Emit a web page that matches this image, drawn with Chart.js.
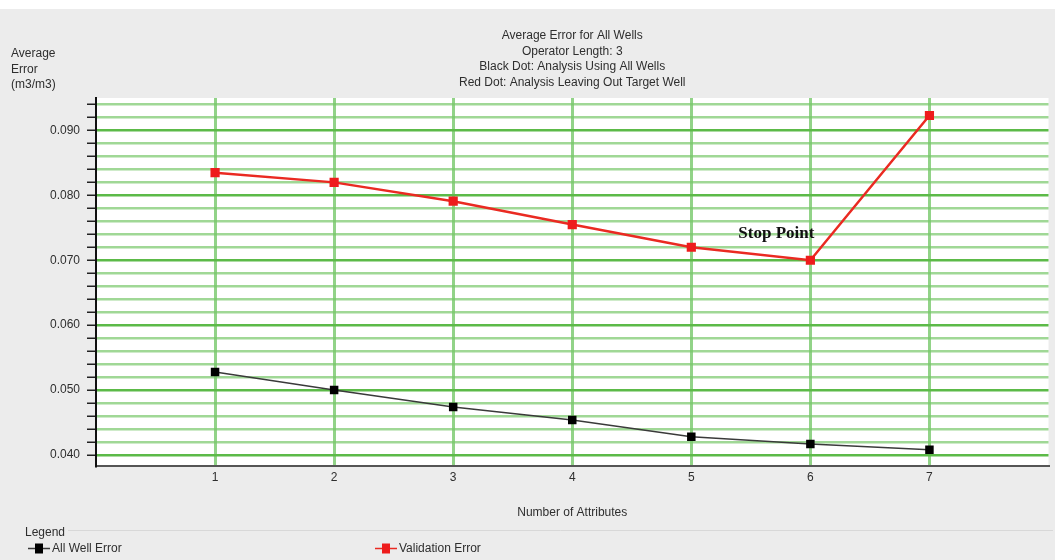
<!DOCTYPE html>
<html>
<head>
<meta charset="utf-8">
<script src="https://cdn.jsdelivr.net/npm/chart.js@4.4.1/dist/chart.umd.min.js"></script>
<style>
  html, body { margin: 0; padding: 0; background: #fff; }
  #wrap { width: 1055px; height: 560px; }
</style>
</head>
<body>
<div id="wrap"><canvas id="chart" width="1055" height="560"></canvas></div>
<script>
// values
const attributes = [1, 2, 3, 4, 5, 6, 7];
const allWellError = [0.0528, 0.0500, 0.0474, 0.0454, 0.0428, 0.0417, 0.0408];
const validationError = [0.0835, 0.0820, 0.0791, 0.0755, 0.0720, 0.0700, 0.0923];
const titleLines = ['Average Error for All Wells', 'Operator Length: 3',
    'Black Dot: Analysis Using All Wells', 'Red Dot: Analysis Leaving Out Target Well'];
const yTitleLines = ['Average', 'Error', '(m3/m3)'];
const xTitle = 'Number of Attributes';
const stopLabel = 'Stop Point';

const FONT = 'Arial, "Liberation Sans", sans-serif';

function isMajor(v) {
    return Math.round(v * 1000) % 10 === 0;
}

const decorPlugin = {
    id: 'decor',
    beforeDraw(chart) {
        let ctx = chart.ctx;
        let a = chart.chartArea;
        ctx.save();
        ctx.fillStyle = '#ececec';
        ctx.fillRect(0, 9, chart.width, chart.height - 9);
        ctx.fillStyle = '#ffffff';
        ctx.fillRect(a.left, a.top, a.right - a.left, a.bottom - a.top);
        ctx.restore();
    },
    afterDraw(chart) {
        let ctx = chart.ctx;
        let a = chart.chartArea;
        ctx.save();
        ctx.fillStyle = '#2e2e2e';
        ctx.font = '12px ' + FONT;
        ctx.textBaseline = 'middle';
        // title
        ctx.textAlign = 'center';
        let cx = (a.left + a.right) / 2;
        titleLines.forEach((t, i) => ctx.fillText(t, cx, 36 + i * 15.5));
        // y axis title
        ctx.textAlign = 'left';
        yTitleLines.forEach((t, i) => ctx.fillText(t, 11, 54 + i * 15.5));

        // stop point annotation
        let pt = chart.getDatasetMeta(1).data[5];
        ctx.font = 'bold 17px "Liberation Serif", "Times New Roman", serif';
        ctx.fillStyle = '#111';
        ctx.textAlign = 'center';
        ctx.fillText(stopLabel, pt.x - 34, pt.y - 27);

        // legend box
        ctx.strokeStyle = '#d8d8d8';
        ctx.lineWidth = 1;
        ctx.beginPath();
        ctx.moveTo(68, 530.5);
        ctx.lineTo(chart.width - 2, 530.5);
        ctx.stroke();
        ctx.font = '12px ' + FONT;
        ctx.fillStyle = '#2e2e2e';
        ctx.textAlign = 'left';
        ctx.fillText('Legend', 25, 533);
        let items = [
            { x: 28, ds: chart.data.datasets[0] },
            { x: 375, ds: chart.data.datasets[1] },
        ];
        items.forEach((it) => {
            let y = 548.5;
            ctx.strokeStyle = it.ds.borderColor;
            ctx.lineWidth = 1.5;
            ctx.beginPath();
            ctx.moveTo(it.x, y);
            ctx.lineTo(it.x + 22, y);
            ctx.stroke();
            ctx.fillStyle = it.ds.pointBackgroundColor;
            ctx.fillRect(it.x + 7, y - 5, 8, 10);
            ctx.fillStyle = '#2e2e2e';
            ctx.fillText(it.ds.label, it.x + 24, y);
        });
        ctx.restore();
    },
};

const ctx = document.getElementById('chart');
const chart = new Chart(ctx, {
    type: 'line',
    data: {
        datasets: [
            {
                label: 'All Well Error',
                data: attributes.map((x, i) => ({ x: x, y: allWellError[i] })),
                borderColor: '#3a3a3a',
                borderWidth: 1.5,
                pointStyle: 'rect',
                pointRadius: 6,
                pointBackgroundColor: '#000',
                pointBorderColor: '#000',
                pointBorderWidth: 0,
                tension: 0,
            },
            {
                label: 'Validation Error',
                data: attributes.map((x, i) => ({ x: x, y: validationError[i] })),
                borderColor: '#ea2a22',
                borderWidth: 2.5,
                pointStyle: 'rect',
                pointRadius: 6.5,
                pointBackgroundColor: '#ee1c1c',
                pointBorderColor: '#ee1c1c',
                pointBorderWidth: 0,
                tension: 0,
            },
        ],
    },
    options: {
        responsive: false,
        animation: false,
        layout: { padding: { top: 98, right: 2, bottom: 34, left: 0 } },
        plugins: {
            legend: { display: false },
            title: { display: false },
            tooltip: { enabled: false },
        },
        scales: {
            x: {
                type: 'linear',
                min: 0,
                max: 8,
                ticks: {
                    stepSize: 1,
                    autoSkip: false,
                    color: '#2e2e2e',
                    font: { size: 12, family: FONT },
                    padding: 4,
                    callback: (v) => (v >= 1 && v <= 7 ? String(v) : ''),
                },
                grid: {
                    drawTicks: false,
                    lineWidth: 3,
                    color: (c) => (c.tick && c.tick.value >= 1 && c.tick.value <= 7 ? 'rgba(110,196,96,0.75)' : 'rgba(0,0,0,0)'),
                },
                border: { color: '#555', width: 2 },
                title: {
                    display: true,
                    text: xTitle,
                    color: '#2e2e2e',
                    font: { size: 12, family: FONT },
                    padding: { top: 14, bottom: 6 },
                },
                afterFit: (s) => { s.height = 60; },
            },
            y: {
                min: 0.0383,
                max: 0.095,
                afterBuildTicks: (s) => {
                    let t = [];
                    for (let i = 20; i <= 47; i++) t.push({ value: i * 0.002 });
                    s.ticks = t;
                },
                ticks: {
                    autoSkip: false,
                    color: '#2e2e2e',
                    font: { size: 12, family: FONT },
                    padding: 7,
                    callback: (v) => (isMajor(v) ? v.toFixed(3) : ''),
                },
                grid: {
                    tickLength: 9,
                    tickColor: '#222',
                    tickWidth: 1.5,
                    lineWidth: 2.5,
                    color: (c) => (c.tick && isMajor(c.tick.value) ? '#5cba48' : 'rgba(120,200,105,0.7)'),
                },
                border: { color: '#111', width: 2 },
                afterFit: (s) => { s.width = 96; },
            },
        },
    },
    plugins: [decorPlugin],
});
</script>
</body>
</html>
